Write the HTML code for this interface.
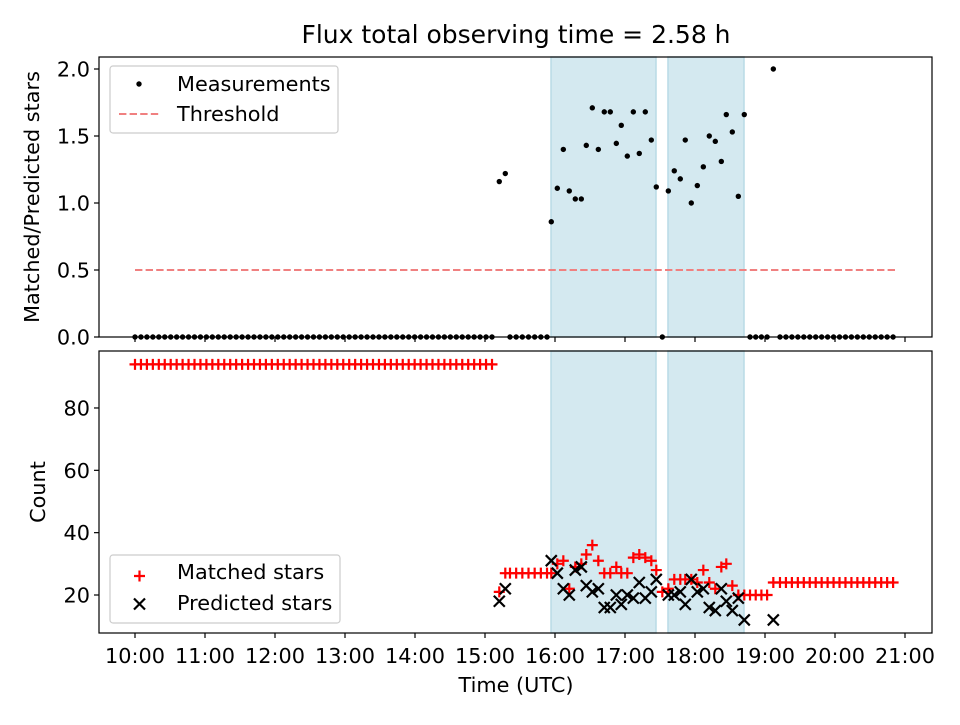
<!DOCTYPE html>
<html><head><meta charset="utf-8"><style>
body{margin:0;background:#fff;}
svg text{font-family:"DejaVu Sans","Liberation Sans",sans-serif;}
</style></head><body>
<svg id="chart" width="960" height="720" xmlns="http://www.w3.org/2000/svg"></svg>
<script>
// ---- data ----
const xTickLabels = ["10:00","11:00","12:00","13:00","14:00","15:00","16:00","17:00","18:00","19:00","20:00","21:00"];
const topTicks = [0,0.5,1.0,1.5,2.0];
const topTickLabels = ["0.0","0.5","1.0","1.5","2.0"];
const botTicks = [20,40,60,80];
const threshold = 0.5;
const thresholdEnd = 10.86;
const shadedSpans = [[5.943,7.443],[7.614,8.70]];
// hours since 10:00 for measured (non-zero) points
const measTimes = [5.204,5.290,5.947,6.033,6.119,6.204,6.290,6.376,6.447,6.533,6.619,6.704,6.790,6.876,6.947,7.033,7.119,7.204,7.290,7.376,7.447,7.533,7.619,7.704,7.790,7.861,7.947,8.033,8.119,8.204,8.290,8.376,8.447,8.533,8.619,8.704,9.119];
const ratioVals = [1.16,1.22,0.86,1.11,1.40,1.09,1.03,1.03,1.43,1.71,1.40,1.68,1.68,1.445,1.58,1.35,1.68,1.37,1.68,1.47,1.12,0,1.09,1.24,1.18,1.47,1.00,1.13,1.27,1.50,1.46,1.31,1.66,1.53,1.05,1.66,2.00];
const matchedVals = [21,27,27,30,31,22,29,30,33,36,31,27,27,29,27,27,32,33,32,31,28,21,22,25,25,25,25,24,28,24,22,29,30,23,20,20,24];
const predictedVals = [18,22,31,27,22,20,28,29,23,21,22,16,16,20,17,20,19,24,19,21,25,null,20,20,21,17,25,21,22,16,15,22,18,15,19,12,12];
// zero-ratio runs
const zeroRunStarts = [0,5.357,8.786,9.214];
const zeroRunEnds = [5.10,5.886,9.03,10.83];
const zeroRunMatched = [94,27,20,24];
const cadence = 0.0857;

// ---- layout ----
const svg = document.getElementById('chart');
const NS = 'http://www.w3.org/2000/svg';
const L=99,R=932, T1=57,B1=337, T2=351,B2=633;
const FS=20.8;
const xs = h => 135 + h*70;
const y1 = v => 337 - v*134;
const y2 = v => 595 - (v-20)*3.117;
function mk(tag, attrs, parent){const e=document.createElementNS(NS,tag);for(const k in attrs)e.setAttribute(k,attrs[k]);(parent||svg).appendChild(e);return e;}

// build full series
const allT=[],allR=[],allM=[];
for(let r=0;r<zeroRunStarts.length;r++){
  const n=Math.round((zeroRunEnds[r]-zeroRunStarts[r])/cadence);
  for(let k=0;k<=n;k++){const t=zeroRunStarts[r]+(n?k*(zeroRunEnds[r]-zeroRunStarts[r])/n:0);allT.push(t);allR.push(0);allM.push(zeroRunMatched[r]);}
}
measTimes.forEach((t,i)=>{allT.push(t);allR.push(ratioVals[i]);allM.push(matchedVals[i]);});

const title = mk('text',{x:516,y:43,'text-anchor':'middle','font-size':25});


title.textContent='Flux total observing time = 2.58 h';

function panel(top,bot,name){
  const g=mk('g',{});
  
  
  shadedSpans.forEach(s=>{
    const r=mk('rect',{x:xs(s[0]),y:top,width:xs(s[1])-xs(s[0]),height:bot-top,fill:'#d4e9f0',stroke:'#b9dbe6','stroke-width':1.5},g);
    
    
  });
  return g;
}
const gTop=panel(T1,B1,'ratio-panel');
const gBot=panel(T2,B2,'count-panel');

const th=mk('line',{x1:xs(0),x2:xs(thresholdEnd),y1:y1(threshold),y2:y1(threshold),stroke:'#f08080','stroke-width':2,'stroke-dasharray':'7.4,3.2'},gTop);



allT.forEach((t,i)=>{
  const c=mk('circle',{cx:xs(t),cy:y1(allR[i]),r:2.7,fill:'#000'},gTop);
  
  
});

allT.forEach((t,i)=>{
  const x=xs(t),y=y2(allM[i]);
  const p=mk('path',{d:`M${x-5.5},${y}H${x+5.5}M${x},${y-5.5}V${y+5.5}`,stroke:'#ff0000','stroke-width':2.2},gBot);
  
  
});
measTimes.forEach((t,i)=>{
  if(predictedVals[i]==null)return;
  const x=xs(t),y=y2(predictedVals[i]);
  const p=mk('path',{d:`M${x-5.5},${y-5.5}L${x+5.5},${y+5.5}M${x-5.5},${y+5.5}L${x+5.5},${y-5.5}`,stroke:'#000','stroke-width':2.2},gBot);
  
  
});

[[T1,B1,'ratio-frame'],[T2,B2,'count-frame']].forEach(f=>{
  const r=mk('rect',{x:L,y:f[0],width:R-L,height:f[1]-f[0],fill:'none',stroke:'#000','stroke-width':1.2});
  
  
});
xTickLabels.forEach((lab,i)=>{
  const x=xs(i);
  mk('line',{x1:x,x2:x,y1:B1,y2:B1+5,stroke:'#000','stroke-width':1.2});
  mk('line',{x1:x,x2:x,y1:B2,y2:B2+5,stroke:'#000','stroke-width':1.2});
  const t=mk('text',{x:x,y:B2+30,'text-anchor':'middle','font-size':FS});
  
  
  t.textContent=lab;
});
topTicks.forEach((v,i)=>{
  const y=y1(v);
  mk('line',{x1:L-5,x2:L,y1:y,y2:y,stroke:'#000','stroke-width':1.2});
  const t=mk('text',{x:L-9,y:y+7.5,'text-anchor':'end','font-size':FS});
  
  
  t.textContent=topTickLabels[i];
});
botTicks.forEach(v=>{
  const y=y2(v);
  mk('line',{x1:L-5,x2:L,y1:y,y2:y,stroke:'#000','stroke-width':1.2});
  const t=mk('text',{x:L-9,y:y+7.5,'text-anchor':'end','font-size':FS});
  
  
  t.textContent=v;
});
const xl=mk('text',{x:516,y:692,'text-anchor':'middle','font-size':FS});


xl.textContent='Time (UTC)';
const yl1=mk('text',{x:0,y:0,'text-anchor':'middle','font-size':FS,transform:'translate(39,197) rotate(-90)'});


yl1.textContent='Matched/Predicted stars';
const yl2=mk('text',{x:0,y:0,'text-anchor':'middle','font-size':FS,transform:'translate(45,492) rotate(-90)'});


yl2.textContent='Count';

function legendBox(x,y,w,h,name){const r=mk('rect',{x:x,y:y,width:w,height:h,rx:3,fill:'#fff','fill-opacity':0.8,stroke:'#ccc','stroke-width':1.2});}
function legText(x,y,s){const t=mk('text',{x:x,y:y,'font-size':FS});t.textContent=s;}
legendBox(110,66,228,67,'ratio-legend');
mk('circle',{cx:139,cy:84,r:2.7,fill:'#000'});
legText(177,91,'Measurements');
mk('line',{x1:119,x2:159,y1:114,y2:114,stroke:'#f08080','stroke-width':2,'stroke-dasharray':'7.4,3.2'});
legText(177,121,'Threshold');
legendBox(110,555,230,68,'count-legend');
mk('path',{d:'M134,576H145M139.5,570.5V581.5',stroke:'#ff0000','stroke-width':2.2});
legText(177,579,'Matched stars');
mk('path',{d:'M134,598.5L145,609.5M134,609.5L145,598.5',stroke:'#000','stroke-width':2.2});
legText(177,610,'Predicted stars');
</script>
</body></html>
